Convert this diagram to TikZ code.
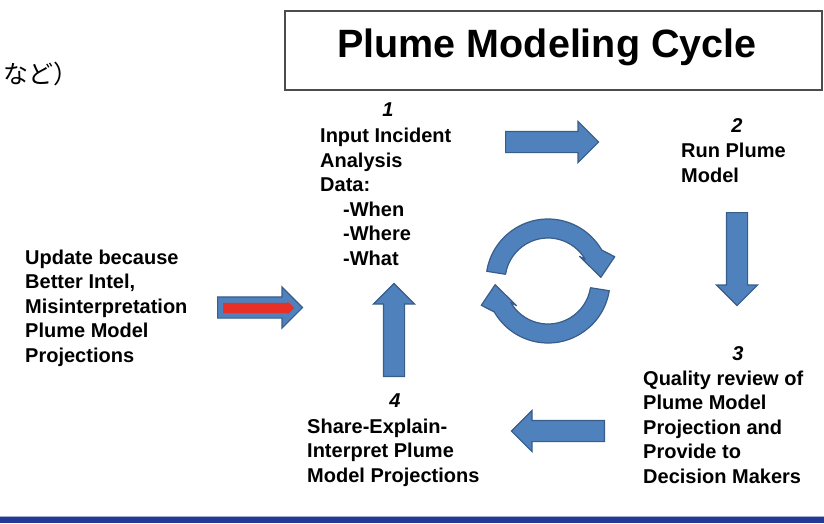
\documentclass[tikz,border=0pt]{standalone}
\usepackage{fontspec}
\setmainfont{Liberation Sans}
\newfontfamily\jpfont{Noto Sans CJK JP}
\usetikzlibrary{shapes.arrows}
\definecolor{arrowblue}{RGB}{79,129,189}
\definecolor{arrowedge}{RGB}{56,93,138}
\definecolor{updred}{RGB}{232,48,38}
\definecolor{bandblue}{RGB}{36,56,150}
\tikzset{
  % base anchor of a multi-line node sits on its last line
  steptext/.style={align=left,inner sep=0pt,anchor=base west,font=\fontsize{20}{24.5}\selectfont\bfseries},
  stepnum/.style={inner sep=0pt,anchor=base,font=\fontsize{20}{24}\selectfont\bfseries\itshape},
  blockarrow/.style={single arrow,draw=arrowedge,fill=arrowblue,line width=1.2pt,inner sep=10pt,anchor=tail,
    minimum height=93pt,minimum width=40pt,single arrow head extend=10pt,single arrow tip angle=90},
  cyclearrow/.style={fill=arrowblue,draw=arrowedge,line width=1.2pt,line join=round}
}

\begin{document}
\begin{tikzpicture}[x=1pt,y=-1pt]
    \useasboundingbox(0,0)rectangle(824,523);
    % heading
    \draw[black!70,line width=2pt](285,11)rectangle(822,90);
    \node[inner sep=0pt,anchor=base,font=\fontsize{39.5}{48}\selectfont\bfseries](title)at(547,57){Plume Modeling Cycle};
    \node[inner sep=0pt,anchor=base west,font=\jpfont\fontsize{25}{30}\selectfont](jp)at(3,83){など）};
    % the four steps
    \node[stepnum](n1)at(388,116){1};
    \node[steptext](s1)at(320,265){Input Incident\\Analysis\\Data:\\\hspace*{23pt}-When\\\hspace*{23pt}-Where\\\hspace*{23pt}-What};
    \node[stepnum](n2)at(737,132){2};
    \node[steptext](s2)at(681,182){Run Plume\\Model};
    \node[stepnum](n3)at(738,360){3};
    \node[steptext](s3)at(643,483){Quality review of\\Plume Model\\Projection and\\Provide to\\Decision Makers};
    \node[stepnum](n4)at(395,407){4};
    \node[steptext](s4)at(307,482){Share-Explain-\\Interpret Plume\\Model Projections};
    \node[steptext](upd)at(25,362){Update because\\Better Intel,\\Misinterpretation\\Plume Model\\Projections};
    % block arrows between the steps, placed by their tails
    \node[blockarrow](a12)at(505,142){};
    \node[blockarrow,shape border rotate=270](a23)at(737,212){};
    \node[blockarrow,shape border rotate=180](a34)at(605,431){};
    \node[blockarrow,shape border rotate=90](a41)at(394,377){};
    \node[blockarrow,minimum height=85pt](aupd)at(217,307.5){};
    \node[single arrow,fill=updred,inner sep=5pt,anchor=tail,minimum height=71pt,minimum width=13pt,
      single arrow head extend=1.5pt](aupdin)at(223,308){};
    % circular arrows in the middle
    \begin{scope}[shift={(548,281)},yscale=-1]
      \foreach \r in {0,180}
        \draw[cyclearrow,rotate=\r](171:43)--(171:62)arc[start angle=171,end angle=30,radius=62]
          --(20:71)--(4:53)--(38:40)--(30:43)arc[start angle=30,end angle=171,radius=43]--cycle;
    \end{scope}
    % band along the bottom edge
    \fill[bandblue](0,517)rectangle(824,523);
    \draw[bandblue!40,line width=1pt](0,516)--(824,516);
\end{tikzpicture}
\end{document}
